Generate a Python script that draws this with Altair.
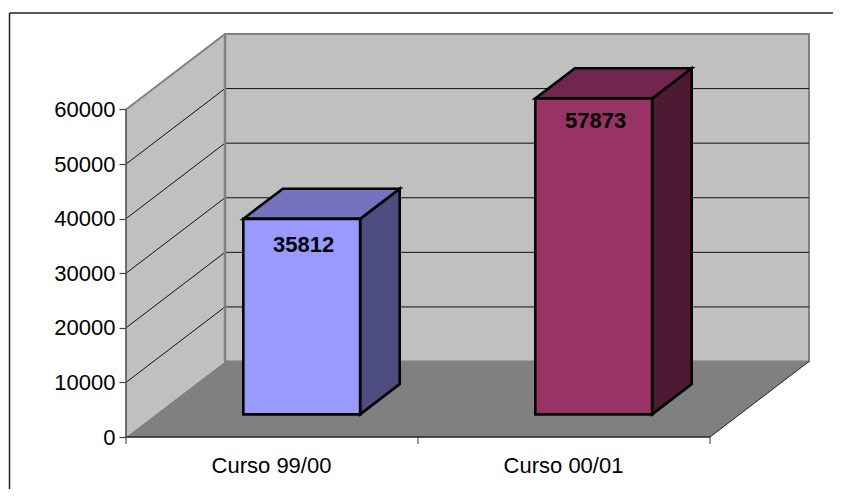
import altair as alt
import pandas as pd

# ---- values ----
categories = ["Curso 99/00", "Curso 00/01"]
values = [35812, 57873]
y_ticks = [0, 10000, 20000, 30000, 40000, 50000, 60000]
front_colors = ["#9999FF", "#993366"]
top_colors = ["#7373BF", "#73264D"]
side_colors = ["#4D4D80", "#4D1A33"]
label_dy = [26, 23]

# ---- oblique projection, in data units ----
N = len(categories)
YMAX = y_ticks[-1]
DX = 99 / 292          # depth of the box along x, in categories
DY = 75.5 / 327.5 * YMAX  # depth of the box along y, in value units
D0, D1 = 0.3, 0.7      # bar depth range (fraction of box depth)
B0, B1 = 0.3, 0.7      # bar width range (fraction of a category)

FONT = "Liberation Sans"
xs = alt.Scale(domain=[0, N + DX], nice=False, zero=False)
ys = alt.Scale(domain=[0, YMAX + DY], nice=False, zero=False)

label_expr = " : ".join(
    [f"datum.value < {i + 1} ? '{c}'" for i, c in enumerate(categories[:-1])]
    + [f"'{categories[-1]}'"]
)
x_axis = alt.Axis(
    values=[i + 0.5 for i in range(N)], labelExpr=label_expr, ticks=False, domain=False,
    grid=False, labelFont=FONT, labelFontSize=22, labelColor="black", title=None,
    labelPadding=28, labelOffset=-1, labelBaseline="middle", labelOverlap=False, labelFlush=False)
y_axis = alt.Axis(
    values=y_ticks, domain=False, grid=False, format="d", tickSize=7, title=None,
    tickColor="#404040", tickWidth=1.2, labelFont=FONT, labelFontSize=22,
    labelColor="black", labelPadding=4, labelOverlap=False, labelFlush=False)

X = lambda f="x": alt.X(f"{f}:Q", scale=xs, axis=x_axis)
Y = lambda f="y": alt.Y(f"{f}:Q", scale=ys, axis=y_axis)


def vface(x0, x1, y00, y01, y10, y11, fill, **kw):
    """face with vertical sides: at x0 from y00 to y01, at x1 from y10 to y11"""
    df = pd.DataFrame({"x": [x0, x1], "y": [y00, y10], "y2": [y01, y11]})
    return alt.Chart(df).mark_area(fill=fill, **kw).encode(x=X(), y=Y(), y2="y2:Q")


def hface(y0, y1, x00, x01, x10, x11, fill, **kw):
    """face with horizontal sides: at y0 from x00 to x01, at y1 from x10 to x11"""
    df = pd.DataFrame({"y": [y0, y1], "x": [x00, x10], "x2": [x01, x11]})
    return alt.Chart(df).mark_area(fill=fill, orient="horizontal", **kw).encode(
        x=X(), y=Y(), x2="x2:Q")


def poly(xv, yv, color, width, **kw):
    df = pd.DataFrame({"x": xv, "y": yv, "o": range(len(xv))})
    return alt.Chart(df).mark_line(color=color, strokeWidth=width, **kw).encode(
        x=X(), y=Y(), order="o:Q")


layers = []

# walls and floor
layers.append(
    alt.Chart(pd.DataFrame({"x": [DX], "x2": [N + DX], "y": [DY], "y2": [YMAX + DY]}))
    .mark_rect(fill="#C0C0C0", stroke="#808080", strokeWidth=2)
    .encode(x=X(), x2="x2:Q", y=Y(), y2="y2:Q")
)
layers.append(vface(0, DX, 0, YMAX, DY, YMAX + DY, "#C0C0C0"))
layers.append(hface(0, DY, 0, N, DX, N + DX, "#808080"))

# grid lines, on side wall and back wall
for v in y_ticks[1:-1]:
    layers.append(poly([0, DX, N + DX], [v, v + DY, v + DY], "#111111", 1))
layers.append(poly([0, DX], [YMAX, YMAX + DY], "#808080", 2))
layers.append(poly([DX, DX], [0 + DY, YMAX + DY], "#808080", 2.5))

# floor edges and front axis lines
layers.append(poly([N, N + DX], [0, DY], "#222222", 1))
layers.append(poly([0, N], [0, 0], "#222222", 1.3))
layers.append(poly([0, 0], [0, YMAX], "#505050", 1.6))

# category ticks below the front axis
layers.append(
    alt.Chart(pd.DataFrame({"x": list(range(N + 1))})).mark_rule(color="#333333", strokeWidth=1)
    .encode(x=X(), y=alt.value(403), y2=alt.value(410))
)

# bars
STROKE = dict(stroke="black", strokeWidth=2.6, strokeJoin="miter")
for i, v in enumerate(values):
    x0 = i + B0 + D0 * DX
    x1 = i + B1 + D0 * DX
    bx = (D1 - D0) * DX
    by0 = D0 * DY
    by = (D1 - D0) * DY
    # side face
    layers.append(vface(x1, x1 + bx, by0, by0 + v, by0 + by, by0 + by + v, side_colors[i], **STROKE))
    # top face
    layers.append(hface(by0 + v, by0 + v + by, x0, x1, x0 + bx, x1 + bx, top_colors[i], **STROKE))
    # front face
    layers.append(
        alt.Chart(pd.DataFrame({"x": [x0], "x2": [x1], "y": [by0], "y2": [by0 + v]}))
        .mark_rect(fill=front_colors[i], **STROKE)
        .encode(x=X(), x2="x2:Q", y=Y(), y2="y2:Q")
    )
    # value label
    layers.append(
        alt.Chart(pd.DataFrame({"x": [(x0 + x1) / 2], "y": [by0 + v], "t": [str(v)]}))
        .mark_text(font=FONT, fontSize=22, fontWeight="bold", color="black",
                   baseline="middle", align="center", dx=2, dy=label_dy[i])
        .encode(x=X(), y=Y(), text="t:N")
    )

# outer chart frame (only its top and left sides fall inside the picture)
layers.append(
    alt.Chart(pd.DataFrame({"a": [0]})).mark_rule(color="#222222", strokeWidth=1.5)
    .encode(x=alt.value(-116.5), y=alt.value(-21), x2=alt.value(707))
)
layers.append(
    alt.Chart(pd.DataFrame({"a": [0]})).mark_rule(color="#222222", strokeWidth=1.5)
    .encode(x=alt.value(-116.5), y=alt.value(-21), y2=alt.value(455))
)

chart = (
    alt.layer(*layers)
    .properties(
        width=683, height=403,
        autosize=alt.AutoSizeParams(type="none"),
        padding={"left": 118, "top": 26, "right": 24, "bottom": 52},
        background="white",
    )
    .configure_view(stroke=None)
)
chart.save("out.html", embed_options={"renderer": "svg", "actions": False})
